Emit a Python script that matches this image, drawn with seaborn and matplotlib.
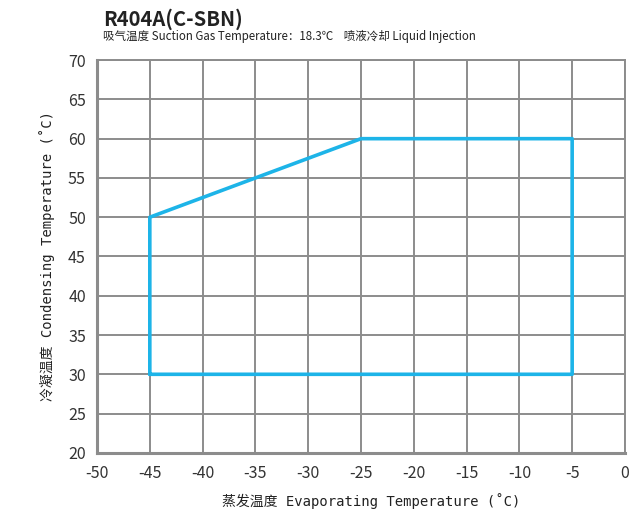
import numpy as np
import pandas as pd
import seaborn as sns
import matplotlib.pyplot as plt

# envelope corners (evaporating, condensing), closed
evap = [-45, -45, -25, -5, -5, -45]
cond = [30, 50, 60, 60, 30, 30]

x_ticks = list(range(-50, 1, 5))
y_ticks = list(range(20, 71, 5))

title = "R404A(C-SBN)"
subtitle = "吸气温度 Suction Gas Temperature：18.3℃    喷液冷却 Liquid Injection"
xlabel = "蒸发温度 Evaporating Temperature (˚C)"
ylabel = "冷凝温度 Condensing Temperature (˚C)"

sns.set_theme(style="white")
plt.rcParams['font.family'] = ['Noto Sans CJK SC', 'DejaVu Sans']
plt.rcParams['axes.unicode_minus'] = False

df = pd.DataFrame({"evap": evap, "cond": cond})

fig = plt.figure(figsize=(6.3, 5.14), dpi=100)
ax = fig.add_axes([0.154, 0.119, 0.838, 0.764])

sns.lineplot(data=df, x="evap", y="cond", sort=False, estimator=None,
             color="#1db4e8", linewidth=2.6, ax=ax, zorder=3)

ax.set_xlim(-50, 0)
ax.set_ylim(20, 70)
ax.set_xticks(x_ticks)
ax.set_yticks(y_ticks)
ax.grid(True, color="#8c8c8c", linewidth=1.4)
for s in ax.spines.values():
    s.set_color("#8c8c8c")
    s.set_linewidth(1.4)
ax.spines["left"].set_linewidth(2.2)
ax.spines["bottom"].set_linewidth(2.2)
ax.tick_params(axis="both", labelsize=11.5, colors="#333333", length=0)
ax.tick_params(axis="x", pad=9)
ax.tick_params(axis="y", pad=8)

mono = ['DejaVu Sans Mono', 'Noto Sans CJK SC']
ax.set_xlabel(xlabel, family=mono, fontsize=10, color="#222222")
ax.set_ylabel(ylabel, family=mono, fontsize=10, color="#222222")
ax.xaxis.set_label_coords(0.52, -0.103)
ax.yaxis.set_label_coords(-0.08, 0.5)

fig.text(0.163, 0.962, title, fontsize=14.5, fontweight="bold", color="#222222", va="center")
fig.text(0.163, 0.929, subtitle, fontsize=8.3, color="#222222", va="center")

fig.savefig("out.png", dpi=100)
